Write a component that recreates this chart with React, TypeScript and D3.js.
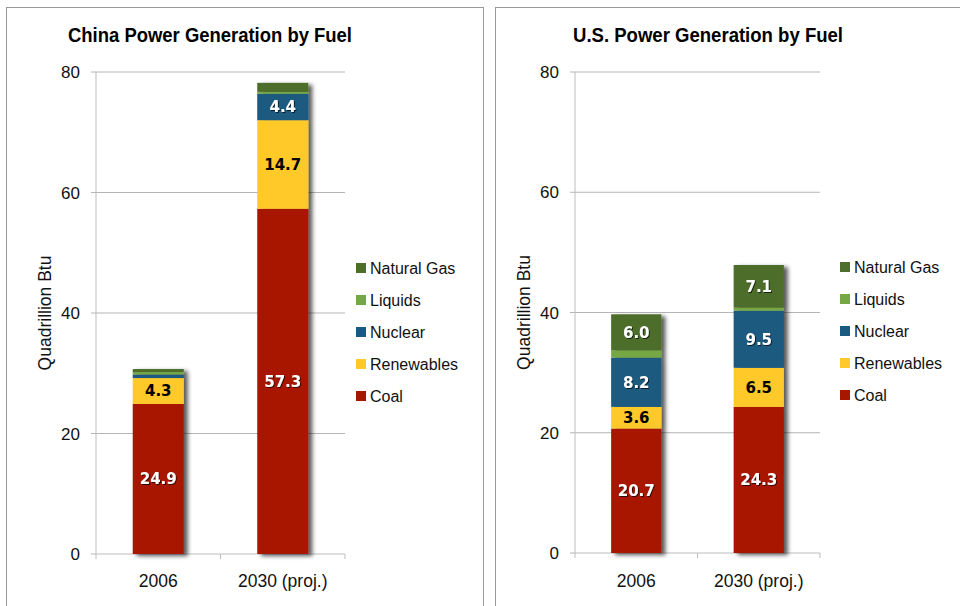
import React from "react";
import { scaleBand, scaleLinear, stack } from "d3";

const fuels = ["Coal", "Renewables", "Nuclear", "Liquids", "Natural Gas"];
const years = ["2006", "2030 (proj.)"];
const yTicks = [0, 20, 40, 60, 80];

const chinaCoal = [24.9, 57.3];
const chinaRenewables = [4.3, 14.7];
const chinaNuclear = [0.6, 4.4];
const chinaLiquids = [0.4, 0.3];
const chinaGas = [0.5, 1.5];

const usCoal = [20.7, 24.3];
const usRenewables = [3.6, 6.5];
const usNuclear = [8.2, 9.5];
const usLiquids = [1.2, 0.5];
const usGas = [6.0, 7.1];

const colors = {
  Coal: "#a81600",
  Renewables: "#ffc92b",
  Nuclear: "#1b5a80",
  Liquids: "#75a845",
  "Natural Gas": "#4e6e2b",
};

const width = 960;
const height = 606;

const makeRows = (series) =>
  years.map((year, i) => {
    const row = { year };
    fuels.forEach((f, j) => (row[f] = series[j][i]));
    return row;
  });

const chinaRows = makeRows([chinaCoal, chinaRenewables, chinaNuclear, chinaLiquids, chinaGas]);
const usRows = makeRows([usCoal, usRenewables, usNuclear, usLiquids, usGas]);

const font = "'Liberation Sans', Arial, sans-serif";

const Panel = ({ rows, title, ox, titleX, titleW, plotRight, zeroY, legendX, legendY }) => {
  const left = 96;
  const top = 72;
  const xScale = scaleBand().domain(years).range([left, plotRight]).paddingInner(0.59).paddingOuter(0.295);
  const band = scaleBand().domain(years).range([left, plotRight]);
  const yScale = scaleLinear().domain([0, 80]).range([zeroY, top]);
  const series = stack().keys(fuels)(rows);

  return (
    <g transform={`translate(${ox},0)`}>
      <text
        x={titleX}
        y={42}
        textLength={titleW}
        lengthAdjust="spacingAndGlyphs"
        fontFamily="'Liberation Sans Narrow', 'Arial Narrow', 'Liberation Sans', sans-serif"
        fontWeight="bold"
        fontSize={20}
        fill="#000"
      >
        {title}
      </text>
      {yTicks.map((t) => (
        <g key={t}>
          {t > 0 && <line x1={left} x2={plotRight} y1={yScale(t)} y2={yScale(t)} stroke="#b5b5b5" />}
          <line x1={left - 5} x2={left} y1={yScale(t)} y2={yScale(t)} stroke="#b5b5b5" />
          <text x={80} y={yScale(t)} dy=".36em" textAnchor="end" fontFamily={font} fontSize={17} fill="#111">
            {t}
          </text>
        </g>
      ))}
      <line x1={left} x2={left} y1={top} y2={zeroY} stroke="#bdbdbd" />
      <line x1={left} x2={plotRight} y1={zeroY} y2={zeroY} stroke="#bdbdbd" />
      {[...years.map((y) => band(y)), plotRight].map((x, i) => (
        <line key={i} x1={x} x2={x} y1={zeroY} y2={zeroY + 5} stroke="#bdbdbd" />
      ))}
      {years.map((y) => (
        <text key={y} x={band(y) + band.bandwidth() / 2} y={587} textAnchor="middle" fontFamily={font} fontSize={17.5} fill="#111">
          {y}
        </text>
      ))}
      <text transform={`translate(51,${(top + zeroY) / 2}) rotate(-90)`} textAnchor="middle" fontFamily={font} fontSize={17.5} fill="#111">
        Quadrillion Btu
      </text>
      {years.map((year, i) => (
        <g key={year} filter="url(#barShadow)">
          {series.map((s) => (
            <rect
              key={s.key}
              x={xScale(year)}
              y={yScale(s[i][1])}
              width={xScale.bandwidth()}
              height={yScale(s[i][0]) - yScale(s[i][1])}
              fill={colors[s.key]}
            />
          ))}
        </g>
      ))}
      {years.map((year, i) =>
        series.map((s) => {
          const v = s[i][1] - s[i][0];
          if (v < 2) return null;
          const dark = s.key === "Renewables";
          return (
            <text
              key={year + s.key}
              x={xScale(year) + xScale.bandwidth() / 2}
              y={yScale((s[i][0] + s[i][1]) / 2)}
              dy=".36em"
              textAnchor="middle"
              fontFamily="'DejaVu Sans', Verdana, sans-serif"
              fontWeight="bold"
              fontSize={15}
              fill={dark ? "#000" : "#fff"}
              filter={dark ? undefined : "url(#textShadow)"}
            >
              {v.toFixed(1)}
            </text>
          );
        })
      )}
      {[...fuels].reverse().map((f, i) => (
        <g key={f} transform={`translate(${legendX},${legendY + i * 32})`}>
          <rect x={0} y={-5} width={10} height={10} fill={colors[f]} />
          <text x={14} y={0} dy=".36em" fontFamily={font} fontSize={16} fill="#111">
            {f}
          </text>
        </g>
      ))}
    </g>
  );
};

export default function App() {
  return (
    <svg width={width} height={height} style={{ position: "absolute", left: 0, top: 0, background: "#fff" }}>
      <defs>
        <filter id="barShadow" x="-20%" y="-10%" width="150%" height="130%">
          <feDropShadow dx={4} dy={2} stdDeviation={2} floodColor="#000" floodOpacity={0.65} />
        </filter>
        <filter id="textShadow" x="-20%" y="-30%" width="140%" height="160%">
          <feDropShadow dx={1} dy={1} stdDeviation={0.6} floodColor="#000" floodOpacity={0.7} />
        </filter>
      </defs>
      <rect x={0} y={0} width={width} height={height} fill="#fff" />
      <rect x={6.5} y={7.5} width={477} height={640} fill="none" stroke="#9a9a9a" />
      <rect x={495.5} y={7.5} width={500} height={640} fill="none" stroke="#9a9a9a" />
      <Panel rows={chinaRows} title="China Power Generation by Fuel" ox={0} titleX={68} titleW={284} plotRight={345} zeroY={554} legendX={356} legendY={268} />
      <Panel rows={usRows} title="U.S. Power Generation by Fuel" ox={479} titleX={94} titleW={270} plotRight={341} zeroY={553} legendX={361} legendY={267} />
    </svg>
  );
}
